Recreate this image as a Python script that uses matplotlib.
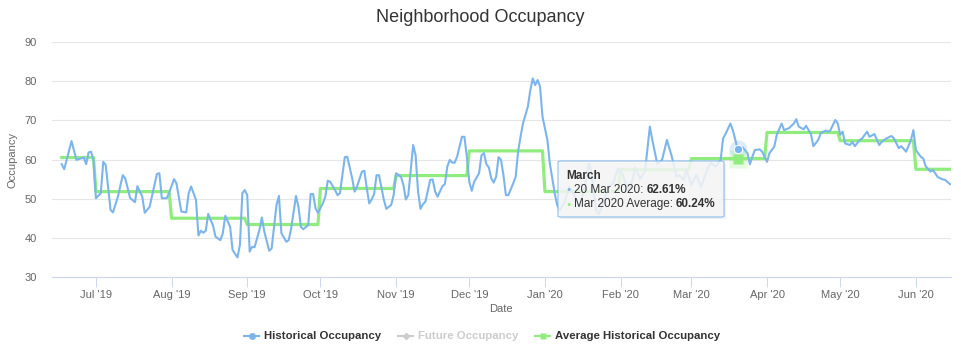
#!/usr/bin/env python3
"""Neighborhood occupancy chart with hover tooltip"""

import pandas as pd
import matplotlib
matplotlib.use('Agg')
import matplotlib.pyplot as plt
import matplotlib.dates as mdates
from matplotlib.lines import Line2D
from matplotlib.patches import FancyBboxPatch
from matplotlib.text import Annotation

plt.rcParams['font.family'] = ['Liberation Sans', 'DejaVu Sans']

BLUE = '#7cb5ec'
GREEN = '#90ed7d'
GREY = '#cccccc'
GRID = '#e6e6e6'
AXIS = '#ccd6eb'
LABEL = '#666666'
TEXT = '#333333'

W, H = 961, 353

# daily occupancy, days counted from BASE_DATE
BASE_DATE = '2019-07-01'
hist_day = [
    -14, -13, -10, -8, -5, -4, -3, -2, -1, 0, 2, 3, 4, 6, 7, 9, 11, 12, 14, 16,
    17, 19, 20, 22, 25, 26, 27, 29, 30, 32, 33, 35, 37, 38, 39, 41, 42, 43, 44, 45,
    46, 48, 49, 51, 52, 53, 55, 56, 58, 59, 60, 61, 62, 63, 64, 65, 67, 68, 69, 71,
    72, 74, 75, 76, 78, 79, 80, 82, 83, 84, 85, 87, 88, 89, 90, 91, 93, 94, 95, 96,
    98, 99, 100, 101, 102, 103, 105, 106, 107, 109, 110, 111, 112, 113, 114, 115, 116, 118, 119, 121,
    122, 123, 125, 126, 127, 128, 130, 131, 132, 133, 134, 135, 137, 138, 139, 140, 142, 143, 144, 145,
    146, 147, 148, 150, 151, 152, 153, 154, 155, 157, 158, 159, 160, 161, 162, 163, 164, 165, 166, 167,
    168, 169, 171, 172, 173, 174, 175, 177, 178, 179, 180, 181, 182, 183, 185, 186, 188, 189, 190, 192,
    194, 196, 198, 200, 202, 203, 205, 206, 208, 210, 212, 214, 216, 218, 220, 221, 223, 225, 227, 228,
    230, 232, 234, 236, 238, 239, 241, 242, 244, 246, 248, 249, 251, 252, 254, 256, 257, 258, 260, 261,
    263, 265, 267, 268, 269, 270, 272, 273, 275, 276, 278, 279, 281, 282, 284, 286, 287, 288, 290, 291,
    293, 294, 296, 297, 299, 300, 301, 303, 304, 305, 306, 307, 309, 310, 311, 313, 314, 316, 317, 319,
    321, 322, 324, 326, 327, 329, 330, 332, 334, 335, 336, 338, 339, 340, 342, 343, 345, 347, 348, 350,
]
hist_occ = [
    58.8, 57.5, 64.7, 59.9, 60.5, 58.8, 61.8, 62.0, 59.9, 50.1, 51.4, 59.4, 58.6, 47.1, 46.5, 50.5, 56.0, 55.2, 50.2, 49.1,
    53.2, 50.5, 46.4, 47.9, 56.3, 56.5, 50.1, 50.1, 51.5, 55.0, 53.9, 46.7, 46.5, 51.4, 53.1, 49.7, 40.6, 41.8, 41.3, 41.8,
    46.1, 43.1, 40.3, 39.4, 41.2, 45.6, 42.8, 36.9, 35.0, 38.2, 51.4, 52.2, 50.9, 36.5, 37.7, 37.6, 42.0, 45.2, 41.6, 36.7,
    37.3, 48.4, 50.7, 41.2, 39.0, 39.4, 42.4, 50.7, 47.9, 42.8, 42.2, 43.3, 51.2, 51.2, 47.5, 46.4, 48.8, 50.5, 54.6, 54.3,
    52.2, 50.9, 51.4, 56.0, 60.6, 60.7, 55.2, 51.8, 53.1, 56.9, 57.1, 52.6, 48.8, 49.8, 51.2, 56.0, 56.0, 49.7, 47.4, 48.4,
    50.9, 56.5, 55.6, 53.5, 49.8, 50.9, 63.7, 61.1, 51.8, 47.4, 48.6, 49.2, 54.8, 54.9, 51.8, 50.5, 53.2, 53.7, 58.2, 59.9,
    59.2, 59.2, 60.7, 65.8, 65.8, 60.7, 54.3, 52.0, 54.3, 56.5, 61.1, 61.6, 58.8, 58.0, 55.2, 54.1, 55.6, 60.6, 59.9, 56.0,
    50.9, 50.9, 53.9, 55.6, 62.0, 65.8, 69.2, 73.5, 77.7, 80.7, 79.0, 80.3, 78.6, 70.9, 65.0, 59.0, 51.4, 48.4, 47.0, 49.0,
    53.0, 51.0, 48.0, 52.0, 59.0, 57.0, 47.0, 46.0, 49.0, 53.0, 54.0, 57.8, 56.0, 52.0, 55.0, 58.0, 55.0, 57.0, 68.4, 65.0,
    59.0, 59.9, 65.0, 60.7, 55.6, 56.0, 54.8, 57.3, 53.5, 56.0, 53.0, 54.8, 58.2, 59.1, 58.2, 59.9, 65.4, 66.5, 69.2, 67.5,
    62.61, 63.1, 61.6, 58.8, 60.7, 62.4, 62.6, 62.0, 59.4, 61.6, 63.3, 66.3, 69.2, 67.5, 68.0, 69.2, 70.3, 68.4, 67.7, 68.6,
    66.5, 63.4, 65.0, 66.7, 67.4, 67.1, 67.5, 70.1, 69.2, 66.3, 67.1, 64.1, 63.7, 64.5, 63.4, 65.0, 65.4, 67.1, 65.8, 66.5,
    63.7, 64.5, 65.4, 66.0, 65.4, 62.9, 63.4, 62.0, 65.0, 67.5, 62.4, 60.7, 60.3, 58.3, 56.9, 57.3, 55.5, 54.9, 54.8, 53.7,
]

# monthly average occupancy
avg_month = ['2019-06', '2019-07', '2019-08', '2019-09', '2019-10', '2019-11', '2019-12',
             '2020-01', '2020-02', '2020-03', '2020-04', '2020-05', '2020-06']
avg_occ = [60.5, 51.8, 45.0, 43.4, 52.6, 55.9, 62.2, 51.8, 57.4, 60.24, 66.9, 64.8, 57.5]

hover_date = '2020-03-20'
hover_occ = 62.61
hover_avg = 60.24


def fx(px):
    return px / W


def fy(py):
    return 1 - py / H


dates = pd.Timestamp(BASE_DATE) + pd.to_timedelta(hist_day, unit='D')

# average series as flat monthly steps over the same daily range
avg_x, avg_y = [], []
for m, v in zip(avg_month, avg_occ):
    p = pd.Period(m, freq='M')
    start = max(p.start_time.normalize(), dates[0])
    end = min(p.end_time.normalize(), dates[-1])
    avg_x += [start, end]
    avg_y += [v, v]

fig = plt.figure(figsize=(W / 100, H / 100), dpi=100, facecolor='white')
ax = fig.add_axes([fx(52), fy(277), fx(951) - fx(52), fy(42) - fy(277)])

ax.plot(dates, hist_occ, color=BLUE, lw=1.5, zorder=3, solid_joinstyle='round')
ax.plot(avg_x, avg_y, color=GREEN, lw=2.3, zorder=2)

# hover markers
hd = pd.Timestamp(hover_date)
ax.plot([hd], [hover_occ], 'o', ms=13, color=BLUE, alpha=0.25, mec='none', zorder=4)
ax.plot([hd], [hover_occ], 'o', ms=6, color=BLUE, mec='white', mew=0.7, zorder=5)
ax.plot([hd], [hover_avg], 's', ms=13, color=GREEN, alpha=0.25, mec='none', zorder=4)
ax.plot([hd], [hover_avg], 's', ms=6.5, color=GREEN, mec='none', zorder=5)

ax.set_xlim(pd.Timestamp(BASE_DATE) - pd.Timedelta(days=18),
            pd.Timestamp(BASE_DATE) + pd.Timedelta(days=350.4))
ax.set_ylim(30, 90)
ax.set_yticks(range(30, 91, 10))
ax.yaxis.grid(True, color=GRID, lw=0.8)
ax.set_axisbelow(True)

ax.xaxis.set_major_locator(mdates.MonthLocator())
ax.xaxis.set_major_formatter(mdates.DateFormatter("%b '%y"))

for s in ['top', 'right', 'left']:
    ax.spines[s].set_visible(False)
ax.spines['bottom'].set_color(AXIS)
ax.spines['bottom'].set_linewidth(0.8)
ax.spines['bottom'].set_zorder(6)

ax.tick_params(axis='y', length=0, labelsize=8, labelcolor=LABEL, pad=11)
ax.tick_params(axis='x', length=7.2, width=0.7, color=AXIS, labelsize=8,
               labelcolor=LABEL, pad=2)

fig.text(0.5, fy(17), 'Neighborhood Occupancy', ha='center', va='center',
         fontsize=13, color=TEXT)
fig.text(fx(501), fy(309), 'Date', ha='center', va='center', fontsize=8, color=LABEL)
fig.text(fx(13), fy(160), 'Occupancy', ha='center', va='center', rotation=90,
         fontsize=8, color=LABEL)

# tooltip
shadow = FancyBboxPatch((fx(560), fy(219)), fx(166), fy(163) - fy(219),
                        boxstyle='round,pad=0,rounding_size=0.003',
                        transform=fig.transFigure, facecolor='#000000', alpha=0.06,
                        edgecolor='none', zorder=1)
box = FancyBboxPatch((fx(558), fy(217)), fx(166), fy(161) - fy(217),
                     boxstyle='round,pad=0,rounding_size=0.003',
                     transform=fig.transFigure, facecolor='#f7f7f7', alpha=0.85,
                     edgecolor=BLUE, linewidth=0.8, zorder=1.1)
fig.patches.extend([shadow, box])

tip = dict(fontsize=8.5, color=TEXT, va='center', zorder=5)
fig.text(fx(566), fy(176), 'March', fontweight='bold', **tip)
fig.text(fx(566), fy(190), '\u25cf', fontsize=5, color=BLUE, va='center', zorder=5)
t1 = fig.text(fx(574), fy(190), '20 Mar 2020:', **tip)
fig.add_artist(Annotation('62.61%', xy=(1, 0), xycoords=t1, xytext=(3, 0),
                          textcoords='offset pixels', va='bottom', ha='left',
                          fontsize=8.5, color=TEXT, fontweight='bold', zorder=5))
fig.text(fx(566), fy(204), '\u25cf', fontsize=5, color=GREEN, va='center', zorder=5)
t2 = fig.text(fx(574), fy(204), 'Mar 2020 Average:', **tip)
fig.add_artist(Annotation('60.24%', xy=(1, 0), xycoords=t2, xytext=(3, 0),
                          textcoords='offset pixels', va='bottom', ha='left',
                          fontsize=8.5, color=TEXT, fontweight='bold', zorder=5))

# legend
leg_y = fy(336)
items = [
    (244, 'o', BLUE, 'Historical Occupancy', TEXT),
    (398, 'D', GREY, 'Future Occupancy', GREY),
    (535, 's', GREEN, 'Average Historical Occupancy', TEXT),
]
for x0, mk, col, label, tcol in items:
    fig.add_artist(Line2D([fx(x0), fx(x0 + 15)], [leg_y, leg_y], color=col, lw=1.5,
                          transform=fig.transFigure))
    fig.add_artist(Line2D([fx(x0 + 7.5)], [leg_y], marker=mk, ms=5 if mk != 'D' else 4.5,
                          color=col, mec='none', transform=fig.transFigure))
    fig.text(fx(x0 + 20), leg_y, label, fontsize=8.2, fontweight='bold', color=tcol,
             va='center', ha='left')

plt.savefig('out.png', dpi=100, facecolor='white')
plt.close()
